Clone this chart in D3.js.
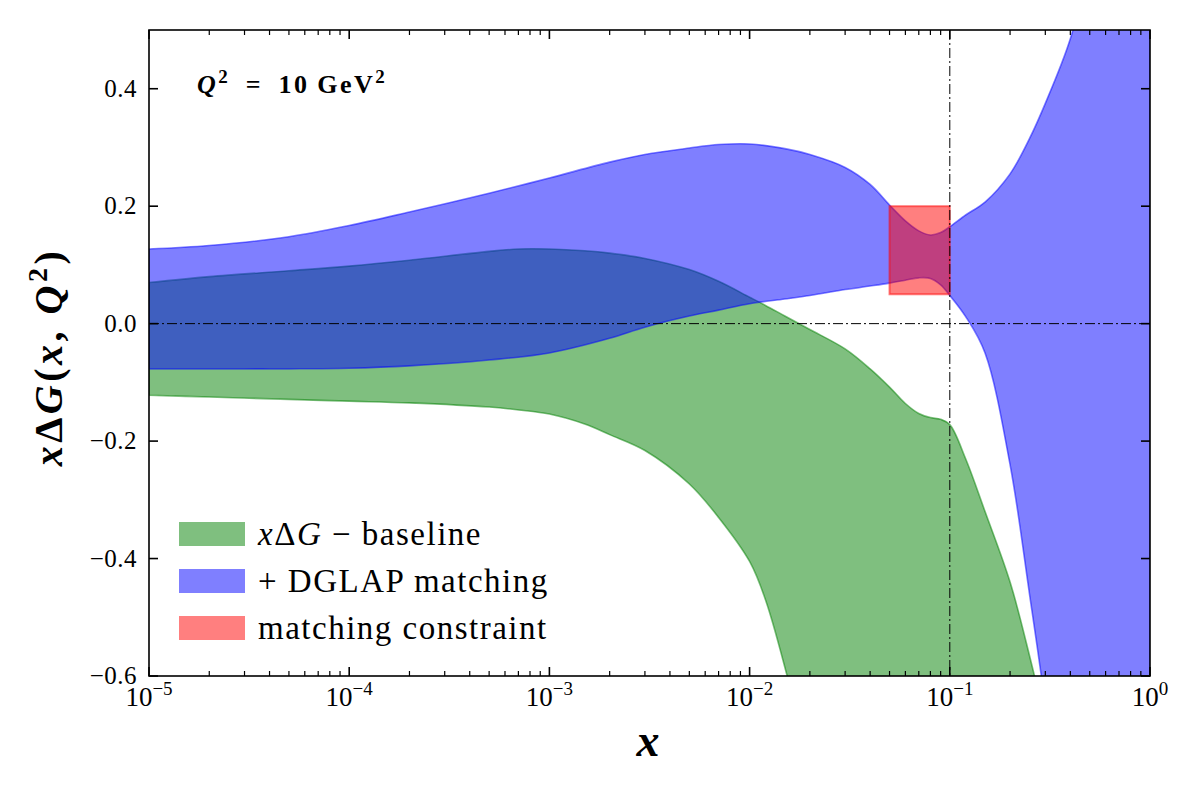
<!DOCTYPE html>
<html>
<head>
<meta charset="utf-8">
<script src="https://cdn.jsdelivr.net/npm/d3@7"></script>
<style>
  body { margin: 0; background: #fff; }
</style>
</head>
<body>
<svg width="1200" height="800" font-family="'Liberation Serif', 'DejaVu Serif', serif"></svg>
<script>
// baseline band (green)
var greenX = [1e-5, 2e-5, 5e-5, 1e-4, 2e-4, 5e-4, 7e-4, 1e-3, 1.5e-3, 2e-3, 3e-3, 5e-3, 7e-3, 1e-2, 1.2e-2, 1.5e-2, 2e-2, 3e-2, 4e-2, 5e-2, 6e-2, 7e-2, 8e-2, 9e-2, 0.1, 0.12, 0.15, 0.2, 0.25, 0.3, 0.4];
var greenHigh = [0.070, 0.080, 0.090, 0.098, 0.108, 0.123, 0.127, 0.127, 0.124, 0.120, 0.111, 0.092, 0.072, 0.045, 0.031, 0.013, -0.010, -0.043, -0.077, -0.108, -0.136, -0.153, -0.160, -0.163, -0.172, -0.230, -0.320, -0.440, -0.565, -0.680, -0.900];
var greenLow = [-0.122, -0.125, -0.129, -0.132, -0.135, -0.142, -0.147, -0.154, -0.171, -0.189, -0.216, -0.273, -0.330, -0.405, -0.470, -0.585, -0.760, -1.100, -1.400, -1.700, -1.900, -2.100, -2.300, -2.500, -2.700, -2.900, -3.100, -3.300, -3.500, -3.700, -3.900];

// with DGLAP matching (blue)
var blueX = [1e-5, 2e-5, 5e-5, 1e-4, 2e-4, 5e-4, 1e-3, 2e-3, 3e-3, 5e-3, 7e-3, 1e-2, 1.5e-2, 2e-2, 3e-2, 4e-2, 5e-2, 6e-2, 7e-2, 8e-2, 9e-2, 0.1, 0.12, 0.15, 0.2, 0.25, 0.3, 0.4, 0.5, 0.7, 1.0];
var blueHigh = [0.127, 0.133, 0.148, 0.167, 0.190, 0.222, 0.248, 0.275, 0.288, 0.299, 0.305, 0.306, 0.298, 0.288, 0.266, 0.237, 0.202, 0.175, 0.158, 0.151, 0.155, 0.165, 0.185, 0.207, 0.255, 0.315, 0.375, 0.485, 0.620, 0.850, 1.200];
var blueLow = [-0.077, -0.077, -0.077, -0.076, -0.072, -0.062, -0.050, -0.025, -0.006, 0.013, 0.023, 0.034, 0.042, 0.048, 0.058, 0.064, 0.069, 0.074, 0.078, 0.077, 0.066, 0.048, 0.012, -0.050, -0.240, -0.460, -0.650, -1.000, -1.500, -2.000, -3.000];

// matching constraint box
var constraintX = [0.05, 0.1];
var constraintY = [0.05, 0.2];

var xTickExp = [-5, -4, -3, -2, -1, 0];
var yTicks = [-0.6, -0.4, -0.2, 0.0, 0.2, 0.4];

var legendLabels = ["baseline", "+ DGLAP matching", "matching constraint"];
var legendColors = ["green", "blue", "red"];

var svg = d3.select("svg"),
    plotLeft = 149, plotRight = 1150, plotTop = 30, plotBottom = 676;

var x = d3.scaleLog().domain([1e-5, 1]).range([plotLeft, plotRight]);
var y = d3.scaleLinear().domain([-0.6, 0.5]).range([plotBottom, plotTop]);

svg.append("clipPath").attr("id", "clip")
    .append("rect")
    .attr("x", plotLeft).attr("y", plotTop)
    .attr("width", plotRight - plotLeft).attr("height", plotBottom - plotTop);

var plot = svg.append("g").attr("clip-path", "url(#clip)");

function band(xs, lo, hi) {
    var pts = xs.map(function (d, i) { return { x: d, lo: lo[i], hi: hi[i] }; });
    return d3.area()
        .x(function (d) { return x(d.x); })
        .y0(function (d) { return y(d.lo); })
        .y1(function (d) { return y(d.hi); })
        .curve(d3.curveCatmullRom.alpha(0.5))(pts);
}

plot.append("path")
    .attr("d", band(greenX, greenLow, greenHigh))
    .attr("fill", "green").attr("fill-opacity", 0.5)
    .attr("stroke", "green").attr("stroke-opacity", 0.5)
    .attr("stroke-width", 1.6);

plot.append("path")
    .attr("d", band(blueX, blueLow, blueHigh))
    .attr("fill", "blue").attr("fill-opacity", 0.5)
    .attr("stroke", "blue").attr("stroke-opacity", 0.5)
    .attr("stroke-width", 1.6);

plot.append("rect")
    .attr("x", x(constraintX[0]))
    .attr("y", y(constraintY[1]))
    .attr("width", x(constraintX[1]) - x(constraintX[0]))
    .attr("height", y(constraintY[0]) - y(constraintY[1]))
    .attr("fill", "red").attr("fill-opacity", 0.5)
    .attr("stroke", "red").attr("stroke-opacity", 0.5)
    .attr("stroke-width", 2);

// dash-dot reference lines
plot.append("line")
    .attr("x1", plotLeft).attr("x2", plotRight)
    .attr("y1", y(0)).attr("y2", y(0))
    .attr("stroke", "black").attr("stroke-width", 1)
    .attr("stroke-dasharray", "10,3,2,3");
plot.append("line")
    .attr("x1", x(0.1)).attr("x2", x(0.1))
    .attr("y1", plotTop).attr("y2", plotBottom)
    .attr("stroke", "black").attr("stroke-width", 1)
    .attr("stroke-dasharray", "10,3,2,3");

// frame
svg.append("rect")
    .attr("x", plotLeft).attr("y", plotTop)
    .attr("width", plotRight - plotLeft).attr("height", plotBottom - plotTop)
    .attr("fill", "none").attr("stroke", "black").attr("stroke-width", 1.6);

// x ticks (inward, top and bottom)
var ticks = svg.append("g").attr("stroke", "black");
x.ticks().forEach(function (t) {
    var major = Math.abs(Math.log10(t) - Math.round(Math.log10(t))) < 1e-9;
    var len = major ? 9 : 5;
    var px = x(t);
    ticks.append("line").attr("x1", px).attr("x2", px)
        .attr("y1", plotBottom).attr("y2", plotBottom - len).attr("stroke-width", major ? 1.6 : 1.2);
    ticks.append("line").attr("x1", px).attr("x2", px)
        .attr("y1", plotTop).attr("y2", plotTop + len).attr("stroke-width", major ? 1.6 : 1.2);
});

// y ticks (inward, left and right)
yTicks.forEach(function (t) {
    var py = y(t);
    ticks.append("line").attr("x1", plotLeft).attr("x2", plotLeft + 9)
        .attr("y1", py).attr("y2", py).attr("stroke-width", 1.6);
    ticks.append("line").attr("x1", plotRight).attr("x2", plotRight - 9)
        .attr("y1", py).attr("y2", py).attr("stroke-width", 1.6);
});

// y tick labels
yTicks.forEach(function (t) {
    svg.append("text")
        .attr("x", 137).attr("y", y(t) + 8)
        .attr("text-anchor", "end")
        .attr("font-size", "25px")
        .attr("letter-spacing", "0.5px")
        .text((t < 0 ? "\u2212" : "") + Math.abs(t).toFixed(1));
});

// x tick labels 10^k
xTickExp.forEach(function (e) {
    var lbl = svg.append("text")
        .attr("x", x(Math.pow(10, e))).attr("y", 706)
        .attr("text-anchor", "middle")
        .attr("font-size", "27px");
    lbl.append("tspan").text("10");
    lbl.append("tspan").attr("dy", -11).attr("font-size", "19px")
        .text(e === 0 ? "0" : "\u2212" + Math.abs(e));
});

// Q^2 annotation
var q = svg.append("text").attr("x", 197).attr("y", 93)
    .attr("font-size", "26px").attr("font-weight", "bold")
    .attr("letter-spacing", "2.5px");
q.append("tspan").attr("font-style", "italic").text("Q");
q.append("tspan").attr("dy", -10).attr("font-size", "19px").text("2");
q.append("tspan").attr("dy", 10).text("\u2002=\u200210\u2009GeV");
q.append("tspan").attr("dy", -10).attr("font-size", "19px").text("2");

// axis labels
var yl = svg.append("text")
    .attr("transform", "translate(62,357) rotate(-90)")
    .attr("text-anchor", "middle")
    .attr("font-size", "40px").attr("font-weight", "bold")
    .attr("letter-spacing", "3.5px");
yl.append("tspan").attr("font-style", "italic").text("x");
yl.append("tspan").text("\u0394");
yl.append("tspan").attr("font-style", "italic").text("G");
yl.append("tspan").text("(");
yl.append("tspan").attr("font-style", "italic").text("x");
yl.append("tspan").text(", ");
yl.append("tspan").attr("font-style", "italic").text("Q");
yl.append("tspan").attr("dy", -15).attr("font-size", "28px").text("2");
yl.append("tspan").attr("dy", 15).text(")");

svg.append("text")
    .attr("x", 648).attr("y", 756)
    .attr("text-anchor", "middle")
    .attr("font-size", "46px").attr("font-weight", "bold").attr("font-style", "italic")
    .text("x");

// legend
legendLabels.forEach(function (label, i) {
    var ly = 522 + i * 47;
    svg.append("rect")
        .attr("x", 179).attr("y", ly)
        .attr("width", 66).attr("height", 24)
        .attr("fill", legendColors[i]).attr("fill-opacity", 0.5);
    var t = svg.append("text")
        .attr("x", 258).attr("y", ly + 23)
        .attr("font-size", "33px")
        .attr("letter-spacing", "1.5px");
    if (i === 0) {
        t.append("tspan").attr("font-style", "italic").text("x");
        t.append("tspan").text("\u0394");
        t.append("tspan").attr("font-style", "italic").text("G");
        t.append("tspan").text(" \u2212 " + label);
    } else {
        t.text(label);
    }
});
</script>
</body>
</html>
